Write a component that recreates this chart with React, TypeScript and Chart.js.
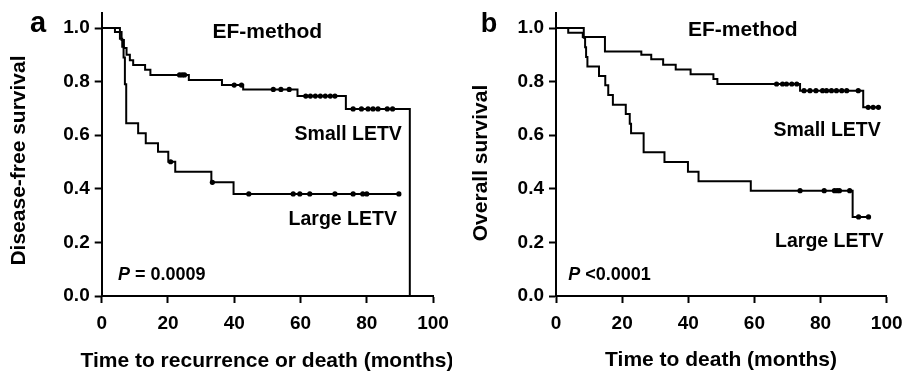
import React, { useEffect, useRef } from "react";
import { Chart, registerables } from "chart.js";
Chart.register(...registerables);

// ---------- tick labels ----------
const xTickValues = [0, 20, 40, 60, 80, 100];
const yTickValues = [0, 0.2, 0.4, 0.6, 0.8, 1.0];

// ---------- panel a : disease-free survival ----------
const aSmallTimes = [0, 4.0, 6.0, 6.7, 7.5, 8.5, 9.5, 13.1, 14.7, 26.3, 36.3, 42.7, 59.1, 73.7, 93.0];
const aSmallSurv = [1, 0.985, 0.955, 0.925, 0.9, 0.88, 0.862, 0.844, 0.825, 0.806, 0.787, 0.771, 0.746, 0.698, 0];
const aSmallCensor = [23.5, 24.3, 25.0, 40.0, 42.2, 51.8, 54.1, 56.6, 61.6, 63.0, 64.5, 66.0, 67.5, 69.0, 70.4, 75.9, 78.4, 80.4, 81.9, 83.4, 86.2, 87.8];
const aSmallEnd = 93.0;

const aLargeTimes = [0, 5.5, 6.2, 6.6, 7.0, 7.4, 11.0, 13.3, 17.0, 20.1, 22.2, 33.1, 39.8];
const aLargeSurv = [1, 0.96, 0.93, 0.89, 0.79, 0.645, 0.607, 0.57, 0.538, 0.501, 0.464, 0.424, 0.381];
const aLargeCensor = [20.8, 33.4, 44.4, 57.8, 59.8, 62.8, 70.4, 75.9, 78.8, 80.0, 89.7];
const aLargeEnd = 89.7;

// ---------- panel b : overall survival ----------
const bSmallTimes = [0, 3.7, 8.1, 14.8, 25.8, 28.8, 32.4, 36.2, 40.7, 47.6, 48.8, 73.8, 92.9];
const bSmallSurv = [1, 0.982, 0.966, 0.912, 0.9, 0.883, 0.863, 0.845, 0.827, 0.81, 0.791, 0.766, 0.704];
const bSmallCensor = [66.7, 68.5, 69.7, 71.3, 72.8, 75.0, 76.8, 78.6, 80.6, 81.8, 83.3, 84.8, 86.4, 87.9, 91.4, 94.4, 95.9, 97.5];
const bSmallEnd = 97.8;

const bLargeTimes = [0, 8.4, 8.8, 9.1, 9.5, 13.0, 14.9, 15.8, 17.2, 21.1, 22.3, 22.7, 26.5, 32.8, 39.9, 43.1, 58.9, 89.7];
const bLargeSurv = [1, 0.964, 0.928, 0.892, 0.856, 0.821, 0.786, 0.75, 0.714, 0.679, 0.643, 0.607, 0.536, 0.5, 0.464, 0.428, 0.393, 0.295];
const bLargeCensor = [73.8, 81.1, 84.2, 85.0, 85.7, 88.8, 91.5, 94.5];
const bLargeEnd = 94.5;

const FONT = '"Liberation Sans", Arial, Helvetica, sans-serif';
const INK = "#000";

function survAt(times: number[], surv: number[], t: number) {
  let s = surv[0];
  for (let i = 0; i < times.length; i++) if (times[i] <= t) s = surv[i];
  return s;
}
function curvePoints(times: number[], surv: number[], end: number) {
  const pts = times.map((t, i) => ({ x: t, y: surv[i] }));
  if (end > times[times.length - 1]) pts.push({ x: end, y: surv[surv.length - 1] });
  return pts;
}
function censorPoints(times: number[], surv: number[], cens: number[]) {
  return cens.map((t) => ({ x: t, y: survAt(times, surv, t) }));
}

type TextItem = {
  text: string;
  prefix?: string; // italic prefix
  x: number;
  y: number;
  data?: boolean;
  align?: CanvasTextAlign;
  size: number;
  rotate?: boolean;
};

const textPlugin = {
  id: "kmText",
  afterDraw(chart: any, _args: any, opts: any) {
    const { ctx, scales } = chart;
    ctx.save();
    ctx.fillStyle = INK;
    ctx.textBaseline = "alphabetic";
    for (const it of (opts.items || []) as TextItem[]) {
      const px = it.data ? scales.x.getPixelForValue(it.x) : it.x;
      const py = it.data ? scales.y.getPixelForValue(it.y) : it.y;
      ctx.save();
      ctx.translate(px, py);
      if (it.rotate) ctx.rotate(-Math.PI / 2);
      const bold = `bold ${it.size}px ${FONT}`;
      const ital = `italic bold ${it.size}px ${FONT}`;
      let pw = 0;
      if (it.prefix) {
        ctx.font = ital;
        pw = ctx.measureText(it.prefix).width;
      }
      ctx.font = bold;
      const tw = ctx.measureText(it.text).width;
      const total = pw + tw;
      const align = it.align || "left";
      let x0 = 0;
      if (align === "center") x0 = -total / 2;
      else if (align === "right") x0 = -total;
      ctx.textAlign = "left";
      if (it.prefix) {
        ctx.font = ital;
        ctx.fillText(it.prefix, x0, 0);
      }
      ctx.font = bold;
      ctx.fillText(it.text, x0 + pw, 0);
      ctx.restore();
    }
    ctx.restore();
  },
};

function zeroPad(s: any) {
  s.paddingTop = 0;
  s.paddingBottom = 0;
  s.paddingLeft = 0;
  s.paddingRight = 0;
}

function makeConfig(p: {
  small: { x: number; y: number }[];
  large: { x: number; y: number }[];
  smallC: { x: number; y: number }[];
  largeC: { x: number; y: number }[];
  yAxisWidth: number;
  padRight: number;
  items: TextItem[];
}): any {
  const lineDs = (data: any) => ({
    type: "line",
    data,
    stepped: true,
    borderColor: INK,
    borderWidth: 2,
    pointRadius: 0,
    fill: false,
    tension: 0,
  });
  const censDs = (data: any) => ({
    type: "scatter",
    data,
    showLine: false,
    pointRadius: 2.6,
    pointBackgroundColor: INK,
    pointBorderWidth: 0,
    pointHoverRadius: 0,
  });
  return {
    type: "line",
    data: {
      datasets: [lineDs(p.small), lineDs(p.large), censDs(p.smallC), censDs(p.largeC)],
    },
    options: {
      animation: false,
      responsive: false,
      events: [],
      layout: { padding: { left: 0, right: p.padRight, top: 13, bottom: 0 } },
      plugins: {
        legend: { display: false },
        tooltip: { enabled: false },
        kmText: { items: p.items },
      },
      scales: {
        x: {
          type: "linear",
          min: 0,
          max: 100,
          afterBuildTicks: (s: any) => {
            s.ticks = xTickValues.map((v) => ({ value: v }));
          },
          afterFit: (s: any) => {
            s.height = 78;
            zeroPad(s);
          },
          ticks: {
            color: INK,
            font: { family: FONT, size: 19, weight: "bold" },
            padding: 9,
            maxRotation: 0,
            callback: (v: any) => String(v),
          },
          grid: {
            drawOnChartArea: false,
            drawTicks: true,
            tickLength: 7,
            tickWidth: 2,
            tickColor: INK,
          },
          border: { display: true, color: INK, width: 2 },
        },
        y: {
          type: "linear",
          min: 0,
          max: 1.056,
          afterBuildTicks: (s: any) => {
            s.ticks = yTickValues.map((v) => ({ value: v }));
          },
          afterFit: (s: any) => {
            s.width = p.yAxisWidth;
            zeroPad(s);
          },
          ticks: {
            color: INK,
            font: { family: FONT, size: 19, weight: "bold" },
            padding: 5,
            callback: (v: any) => Number(v).toFixed(1),
          },
          grid: {
            drawOnChartArea: false,
            drawTicks: true,
            tickLength: 7,
            tickWidth: 2,
            tickColor: INK,
          },
          border: { display: true, color: INK, width: 2 },
        },
      },
    },
    plugins: [textPlugin],
  };
}

const itemsA: TextItem[] = [
  { text: "a", x: 30, y: 32, size: 29 },
  { text: "EF-method", x: 50, y: 0.963, data: true, align: "center", size: 21 },
  { text: "Small LETV", x: 90.6, y: 0.582, data: true, align: "right", size: 19.5 },
  { text: "Large LETV", x: 89.1, y: 0.265, data: true, align: "right", size: 19.5 },
  { text: " = 0.0009", prefix: "P", x: 4.9, y: 0.06, data: true, align: "left", size: 18 },
  { text: "Time to recurrence or death (months)", x: 267, y: 367, align: "center", size: 21 },
  { text: "Disease-free survival", x: 25, y: 160.5, align: "center", size: 21, rotate: true },
];
const itemsB: TextItem[] = [
  { text: "b", x: 28.7, y: 31.7, size: 27 },
  { text: "EF-method", x: 56.5, y: 0.97, data: true, align: "center", size: 21 },
  { text: "Small LETV", x: 98.2, y: 0.597, data: true, align: "right", size: 19.5 },
  { text: "Large LETV", x: 99.0, y: 0.183, data: true, align: "right", size: 19.5 },
  { text: " <0.0001", prefix: "P", x: 3.7, y: 0.06, data: true, align: "left", size: 18 },
  { text: "Time to death (months)", x: 269, y: 366, align: "center", size: 21 },
  { text: "Overall survival", x: 35, y: 163, align: "center", size: 21, rotate: true },
];

export default function App() {
  const refA = useRef<HTMLCanvasElement>(null);
  const refB = useRef<HTMLCanvasElement>(null);
  useEffect(() => {
    const ca = new Chart(
      refA.current as HTMLCanvasElement,
      makeConfig({
        small: curvePoints(aSmallTimes, aSmallSurv, aSmallEnd),
        large: curvePoints(aLargeTimes, aLargeSurv, aLargeEnd),
        smallC: censorPoints(aSmallTimes, aSmallSurv, aSmallCensor),
        largeC: censorPoints(aLargeTimes, aLargeSurv, aLargeCensor),
        yAxisWidth: 101.7,
        padRight: 19,
        items: itemsA,
      })
    );
    const cb = new Chart(
      refB.current as HTMLCanvasElement,
      makeConfig({
        small: curvePoints(bSmallTimes, bSmallSurv, bSmallEnd),
        large: curvePoints(bLargeTimes, bLargeSurv, bLargeEnd),
        smallC: censorPoints(bSmallTimes, bSmallSurv, bSmallCensor),
        largeC: censorPoints(bLargeTimes, bLargeSurv, bLargeCensor),
        yAxisWidth: 104,
        padRight: 17.3,
        items: itemsB,
      })
    );
    return () => {
      ca.destroy();
      cb.destroy();
    };
  }, []);
  return (
    <div style={{ position: "fixed", left: 0, top: 0, width: 904, height: 374, background: "#fff" }}>
      <canvas ref={refA} width={452} height={374} style={{ position: "absolute", left: 0, top: 0, width: 452, height: 374 }} />
      <canvas ref={refB} width={452} height={374} style={{ position: "absolute", left: 452, top: 0, width: 452, height: 374 }} />
    </div>
  );
}
